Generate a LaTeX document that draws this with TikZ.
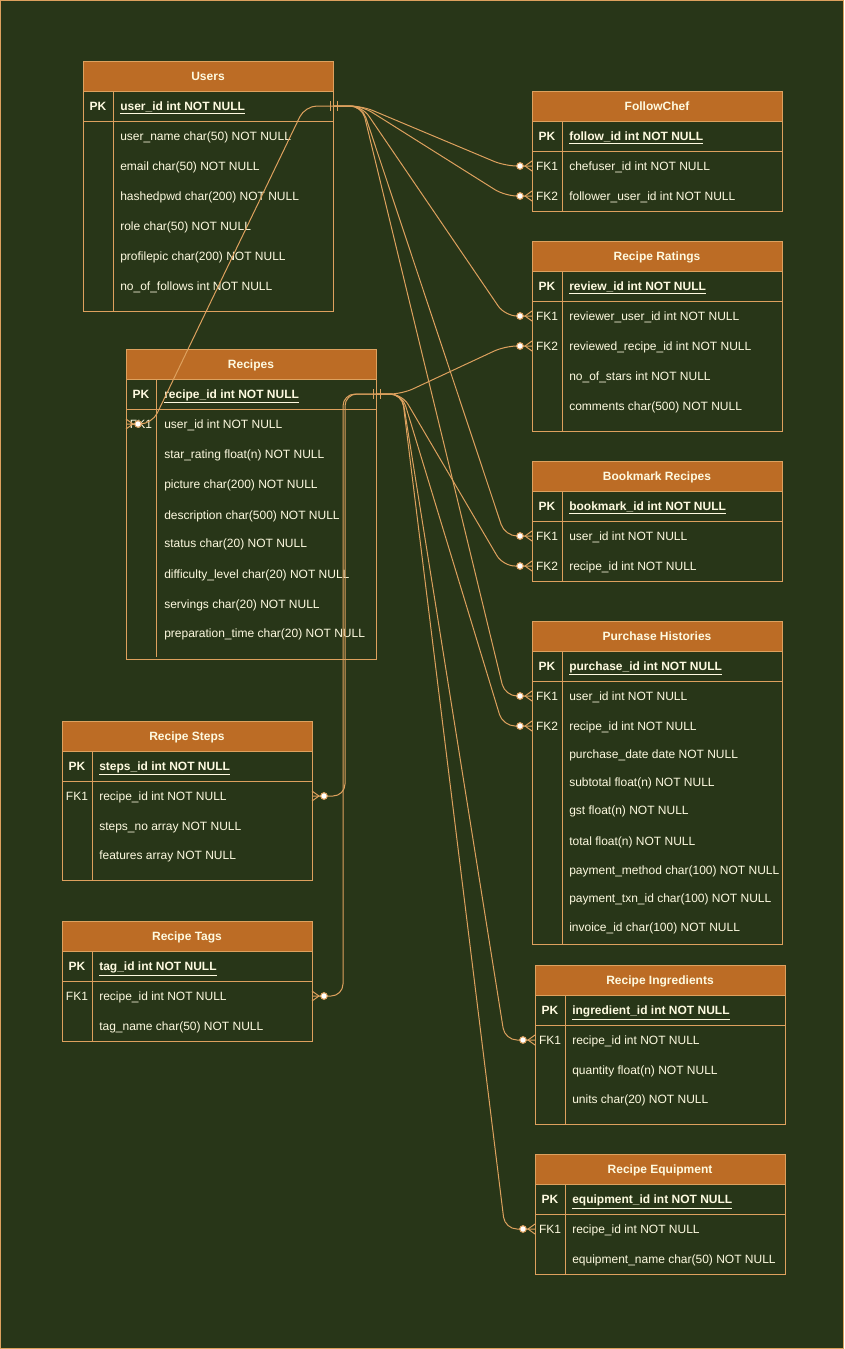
\documentclass[tikz,border=0pt]{standalone}
\usepackage{fontspec}
\setmainfont{Liberation Sans}
\usetikzlibrary{positioning}
\definecolor{bgGreen}{HTML}{283618}
\definecolor{lineTan}{HTML}{DDA15E}
\definecolor{hdrBrown}{HTML}{BC6C25}
\definecolor{txtCream}{HTML}{FEFAE0}

\begin{document}
\begin{tikzpicture}[x=0.75pt,y=-0.75pt,
		tbl/.style={draw=lineTan, line width=0.75pt},
		hdr/.style={tbl, fill=hdrBrown},
		title/.style={text=txtCream, inner sep=0pt, anchor=base, yshift=-3.3pt, font=\fontsize{9}{11}\selectfont\bfseries},
		keylbl/.style={text=txtCream, inner sep=0pt, anchor=base, yshift=-3.3pt, font=\fontsize{9}{11}\selectfont},
		pklbl/.style={keylbl, font=\fontsize{9}{11}\selectfont\bfseries},
		field/.style={keylbl, anchor=base west},
		pkfield/.style={pklbl, anchor=base west},
		rel/.style={draw=lineTan, line width=0.75pt, rounded corners=9pt},
		dot/.style={draw=lineTan, line width=0.75pt, fill=white}]
		\useasboundingbox (0,0) rectangle (844,1349);
		\draw[tbl, fill=bgGreen] (0.5,0.5) rectangle (843.5,1348.5);

		% Users
		\draw[tbl] (83,61) rectangle (333,311);
		\draw[hdr] (83,61) rectangle (333,91);
		\draw[tbl] (83,121) -- (333,121);
		\draw[tbl] (113,91) -- (113,311);
		\node[title] (users) at (208,76) {Users};
		\node[pklbl] (users-pkl) at (98,106) {PK};
		\node[pkfield] (users-pk) at (120,106) {\underline{user\_id int NOT NULL}};
		\foreach \y/\t in {136/user\_name char(50) NOT NULL, 166/email char(50) NOT NULL,
			196/hashedpwd char(200) NOT NULL, 226/role char(50) NOT NULL,
			256/profilepic char(200) NOT NULL, 286/no\_of\_follows int NOT NULL}
			\node[field] (users-\y) at (120,\y) {\t};

		% FollowChef
		\draw[tbl] (532,91) rectangle (782,211);
		\draw[hdr] (532,91) rectangle (782,121);
		\draw[tbl] (532,151) -- (782,151);
		\draw[tbl] (562,121) -- (562,211);
		\node[title] (follow) at (657,106) {FollowChef};
		\node[pklbl] (follow-pkl) at (547,136) {PK};
		\node[pkfield] (follow-pk) at (569,136) {\underline{follow\_id int NOT NULL}};
		\node[keylbl] (follow-fk1l) at (547,166) {FK1};
		\node[keylbl] (follow-fk2l) at (547,196) {FK2};
		\foreach \y/\t in {166/chefuser\_id int NOT NULL, 196/follower\_user\_id int NOT NULL}
			\node[field] (follow-\y) at (569,\y) {\t};

		% Recipe Ratings
		\draw[tbl] (532,241) rectangle (782,431);
		\draw[hdr] (532,241) rectangle (782,271);
		\draw[tbl] (532,301) -- (782,301);
		\draw[tbl] (562,271) -- (562,431);
		\node[title] (ratings) at (657,256) {Recipe Ratings};
		\node[pklbl] (ratings-pkl) at (547,286) {PK};
		\node[pkfield] (ratings-pk) at (569,286) {\underline{review\_id int NOT NULL}};
		\node[keylbl] (ratings-fk1l) at (547,316) {FK1};
		\node[keylbl] (ratings-fk2l) at (547,346) {FK2};
		\foreach \y/\t in {316/reviewer\_user\_id int NOT NULL, 346/reviewed\_recipe\_id int NOT NULL,
			376/no\_of\_stars int NOT NULL, 406/comments char(500) NOT NULL}
			\node[field] (ratings-\y) at (569,\y) {\t};

		% Recipes
		\draw[tbl] (126,349) rectangle (376,659);
		\draw[hdr] (126,349) rectangle (376,379);
		\draw[tbl] (126,409) -- (376,409);
		\draw[tbl] (156,379) -- (156,657);
		\node[title] (recipes) at (251,364) {Recipes};
		\node[pklbl] (recipes-pkl) at (141,394) {PK};
		\node[pkfield] (recipes-pk) at (164,394) {\underline{recipe\_id int NOT NULL}};
		\node[keylbl] (recipes-fk1l) at (141,424) {FK1};
		\foreach \y/\t in {424/user\_id int NOT NULL, 454/star\_rating float(n) NOT NULL,
			484/picture char(200) NOT NULL, 515/description char(500) NOT NULL,
			543/status char(20) NOT NULL, 574/difficulty\_level char(20) NOT NULL,
			604/servings char(20) NOT NULL, 633/preparation\_time char(20) NOT NULL}
			\node[field] (recipes-\y) at (164,\y) {\t};

		% Bookmark Recipes
		\draw[tbl] (532,461) rectangle (782,581);
		\draw[hdr] (532,461) rectangle (782,491);
		\draw[tbl] (532,521) -- (782,521);
		\draw[tbl] (562,491) -- (562,581);
		\node[title] (bookmark) at (657,476) {Bookmark Recipes};
		\node[pklbl] (bookmark-pkl) at (547,506) {PK};
		\node[pkfield] (bookmark-pk) at (569,506) {\underline{bookmark\_id int NOT NULL}};
		\node[keylbl] (bookmark-fk1l) at (547,536) {FK1};
		\node[keylbl] (bookmark-fk2l) at (547,566) {FK2};
		\foreach \y/\t in {536/user\_id int NOT NULL, 566/recipe\_id int NOT NULL}
			\node[field] (bookmark-\y) at (569,\y) {\t};

		% Purchase Histories
		\draw[tbl] (532,621) rectangle (782,944);
		\draw[hdr] (532,621) rectangle (782,651);
		\draw[tbl] (532,681) -- (782,681);
		\draw[tbl] (562,651) -- (562,944);
		\node[title] (purchase) at (657,636) {Purchase Histories};
		\node[pklbl] (purchase-pkl) at (547,666) {PK};
		\node[pkfield] (purchase-pk) at (569,666) {\underline{purchase\_id int NOT NULL}};
		\node[keylbl] (purchase-fk1l) at (547,696) {FK1};
		\node[keylbl] (purchase-fk2l) at (547,726) {FK2};
		\foreach \y/\t in {696/user\_id int NOT NULL, 726/recipe\_id int NOT NULL,
			754/purchase\_date date NOT NULL, 782/subtotal float(n) NOT NULL,
			810/gst float(n) NOT NULL, 841/total float(n) NOT NULL,
			870/payment\_method char(100) NOT NULL, 898/payment\_txn\_id char(100) NOT NULL,
			927/invoice\_id char(100) NOT NULL}
			\node[field] (purchase-\y) at (569,\y) {\t};

		% Recipe Steps
		\draw[tbl] (62,721) rectangle (312,880);
		\draw[hdr] (62,721) rectangle (312,751);
		\draw[tbl] (62,781) -- (312,781);
		\draw[tbl] (92,751) -- (92,880);
		\node[title] (steps) at (187,736) {Recipe Steps};
		\node[pklbl] (steps-pkl) at (77,766) {PK};
		\node[pkfield] (steps-pk) at (99,766) {\underline{steps\_id int NOT NULL}};
		\node[keylbl] (steps-fk1l) at (77,796) {FK1};
		\foreach \y/\t in {796/recipe\_id int NOT NULL, 826/steps\_no array NOT NULL,
			855/features array NOT NULL}
			\node[field] (steps-\y) at (99,\y) {\t};

		% Recipe Tags
		\draw[tbl] (62,921) rectangle (312,1041);
		\draw[hdr] (62,921) rectangle (312,951);
		\draw[tbl] (62,981) -- (312,981);
		\draw[tbl] (92,951) -- (92,1041);
		\node[title] (tags) at (187,936) {Recipe Tags};
		\node[pklbl] (tags-pkl) at (77,966) {PK};
		\node[pkfield] (tags-pk) at (99,966) {\underline{tag\_id int NOT NULL}};
		\node[keylbl] (tags-fk1l) at (77,996) {FK1};
		\foreach \y/\t in {996/recipe\_id int NOT NULL, 1026/tag\_name char(50) NOT NULL}
			\node[field] (tags-\y) at (99,\y) {\t};

		% Recipe Ingredients
		\draw[tbl] (535,965) rectangle (785,1124);
		\draw[hdr] (535,965) rectangle (785,995);
		\draw[tbl] (535,1025) -- (785,1025);
		\draw[tbl] (565,995) -- (565,1124);
		\node[title] (ingred) at (660,980) {Recipe Ingredients};
		\node[pklbl] (ingred-pkl) at (550,1010) {PK};
		\node[pkfield] (ingred-pk) at (572,1010) {\underline{ingredient\_id int NOT NULL}};
		\node[keylbl] (ingred-fk1l) at (550,1040) {FK1};
		\foreach \y/\t in {1040/recipe\_id int NOT NULL, 1070/quantity float(n) NOT NULL,
			1099/units char(20) NOT NULL}
			\node[field] (ingred-\y) at (572,\y) {\t};

		% Recipe Equipment
		\draw[tbl] (535,1154) rectangle (785,1274);
		\draw[hdr] (535,1154) rectangle (785,1184);
		\draw[tbl] (535,1214) -- (785,1214);
		\draw[tbl] (565,1184) -- (565,1274);
		\node[title] (equip) at (660,1169) {Recipe Equipment};
		\node[pklbl] (equip-pkl) at (550,1199) {PK};
		\node[pkfield] (equip-pk) at (572,1199) {\underline{equipment\_id int NOT NULL}};
		\node[keylbl] (equip-fk1l) at (550,1229) {FK1};
		\foreach \y/\t in {1229/recipe\_id int NOT NULL, 1259/equipment\_name char(50) NOT NULL}
			\node[field] (equip-\y) at (572,\y) {\t};

		% connector ends
		\coordinate (u-pk) at (333,106);
		\coordinate (r-pk) at (376,394);
		\coordinate (fc-fk1) at (532,166);
		\coordinate (fc-fk2) at (532,196);
		\coordinate (rr-fk1) at (532,316);
		\coordinate (rr-fk2) at (532,346);
		\coordinate (bm-fk1) at (532,536);
		\coordinate (bm-fk2) at (532,566);
		\coordinate (ph-fk1) at (532,696);
		\coordinate (ph-fk2) at (532,726);
		\coordinate (ri-fk1) at (535,1040);
		\coordinate (re-fk1) at (535,1229);
		\coordinate (rc-fk1) at (126,424);
		\coordinate (rs-fk1) at (312,796);
		\coordinate (rt-fk1) at (312,996);

		% relations from Users
		\draw[rel] (u-pk) -- (305,106) -- (152,424) -- (rc-fk1);
		\draw[rel] (u-pk) -- (362,106) -- (505,166) -- (fc-fk1);
		\draw[rel] (u-pk) -- (362,106) -- (505,196) -- (fc-fk2);
		\draw[rel] (u-pk) -- (362,106) -- (505,316) -- (rr-fk1);
		\draw[rel] (u-pk) -- (362,106) -- (505,536) -- (bm-fk1);
		\draw[rel] (u-pk) -- (362,106) -- (505,696) -- (ph-fk1);

		% relations from Recipes
		\draw[rel] (r-pk) -- (402,394) -- (505,346) -- (rr-fk2);
		\draw[rel] (r-pk) -- (402,394) -- (503,566) -- (bm-fk2);
		\draw[rel] (r-pk) -- (402,394) -- (503,726) -- (ph-fk2);
		\draw[rel] (r-pk) -- (402,394) -- (505,1040) -- (ri-fk1);
		\draw[rel] (r-pk) -- (402,394) -- (505,1229) -- (re-fk1);
		\draw[rel] (r-pk) -- (345,394) -- (345,796) -- (rs-fk1);
		\draw[rel] (r-pk) -- (343,394) -- (343,996) -- (rt-fk1);

		% mandatory one marks
		\foreach \c in {u-pk, r-pk} {
			\draw[tbl] (\c) ++(-3,-5) -- ++(0,10);
			\draw[tbl] (\c) ++(4,-5) -- ++(0,10);
		}

		% zero or many marks
		\foreach \c in {fc-fk1, fc-fk2, rr-fk1, rr-fk2, bm-fk1, bm-fk2, ph-fk1, ph-fk2, ri-fk1, re-fk1} {
			\draw[tbl] (\c) ++(0,-5) -- ++(-7,5) -- ++(7,5);
			\draw[dot] (\c) ++(-12,0) circle (2.5pt);
		}
		\foreach \c in {rc-fk1, rs-fk1, rt-fk1} {
			\draw[tbl] (\c) ++(0,-5) -- ++(7,5) -- ++(-7,5);
			\draw[dot] (\c) ++(12,0) circle (2.5pt);
		}
	\end{tikzpicture}
\end{document}
